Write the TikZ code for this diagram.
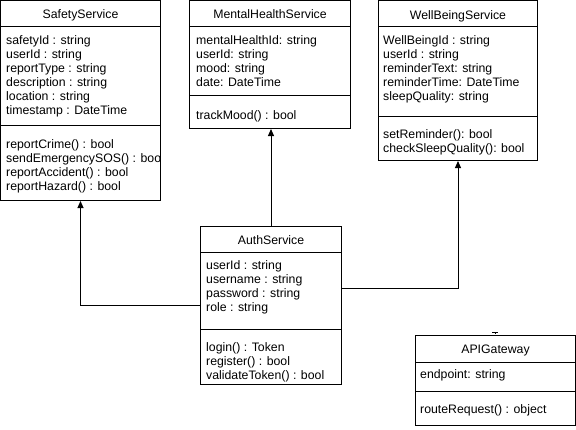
\documentclass[tikz,border=0pt]{standalone}
\usepackage{fontspec}
\setmainfont{Liberation Sans}
\usetikzlibrary{arrows.meta}
\tikzset{
  umlbox/.style={draw, line width=1pt, rectangle, inner sep=0pt},
  sepline/.style={line width=1pt},
  txt/.style={anchor=base west, inner sep=0pt, font=\fontsize{12.3}{14}\selectfont},
  ttl/.style={anchor=base, inner sep=0pt, font=\fontsize{12.3}{14}\selectfont},
  conn/.style={line width=1pt, -{Triangle[width=6pt,length=7pt]}}
}
\begin{document}
\begin{tikzpicture}[x=1pt,y=-1pt]
\useasboundingbox (0,0) rectangle (576,429);
% boxes
\node[umlbox, minimum width=160pt, minimum height=200pt] (safety) at (80.5,100.5) {};
\node[umlbox, minimum width=161pt, minimum height=128pt] (mental) at (270,64.5) {};
\node[umlbox, minimum width=159pt, minimum height=160pt] (wellbeing) at (458,80.5) {};
\node[umlbox, minimum width=141pt, minimum height=158pt] (auth) at (271,305.5) {};
\node[umlbox, minimum width=160pt, minimum height=90pt] (api) at (495.5,380.5) {};
% compartment lines
\draw[sepline] (0.5,26.5) -- (160.5,26.5);
\draw[sepline] (0.5,125.5) -- (160.5,125.5);
\draw[sepline] (189.5,26.5) -- (350.5,26.5);
\draw[sepline] (189.5,95.5) -- (350.5,95.5);
\draw[sepline] (378.5,26.5) -- (537.5,26.5);
\draw[sepline] (378.5,116.5) -- (537.5,116.5);
\draw[sepline] (200.5,252.5) -- (341.5,252.5);
\draw[sepline] (200.5,329.5) -- (341.5,329.5);
\draw[sepline] (415.5,362.5) -- (575.5,362.5);
\draw[sepline] (415.5,391.5) -- (575.5,391.5);
% titles
\node[ttl] (safety-t) at (80.5,18) {SafetyService};
\node[ttl] (mental-t) at (270,18) {MentalHealthService};
\node[ttl] (wellbeing-t) at (458,19) {WellBeingService};
\node[ttl] (auth-t) at (271,244) {AuthService};
\node[ttl] (api-t) at (495.5,353) {APIGateway};
% SafetyService
\foreach \t [count=\i from 0] in {safetyId : string, userId : string, reportType : string, description : string, location : string, timestamp : DateTime}
  \node[txt] (safety-a\i) at (6,44+14*\i) {\t};
\begin{scope}
\clip (0,127) rectangle (160,199);
\foreach \t [count=\i from 0] in {reportCrime() : bool, sendEmergencySOS() : bool, reportAccident() : bool, reportHazard() : bool}
  \node[txt] (safety-m\i) at (6,148+14*\i) {\t};
\end{scope}
% MentalHealthService
\foreach \t [count=\i from 0] in {mentalHealthId: string, userId: string, mood: string, date: DateTime}
  \node[txt] (mental-a\i) at (196,44+14*\i) {\t};
\node[txt] (mental-m0) at (196,119) {trackMood() : bool};
% WellBeingService
\foreach \t [count=\i from 0] in {WellBeingId : string, userId : string, reminderText: string, reminderTime: DateTime, sleepQuality: string}
  \node[txt] (wellbeing-a\i) at (383,44+14*\i) {\t};
\foreach \t [count=\i from 0] in {setReminder(): bool, checkSleepQuality(): bool}
  \node[txt] (wellbeing-m\i) at (383,138+14*\i) {\t};
% AuthService
\foreach \t [count=\i from 0] in {userId : string, username : string, password : string, role : string}
  \node[txt] (auth-a\i) at (206,269+14*\i) {\t};
\foreach \t [count=\i from 0] in {login() : Token, register() : bool, validateToken() : bool}
  \node[txt] (auth-m\i) at (206,351+14*\i) {\t};
% APIGateway
\node[txt] (api-a0) at (420,378) {endpoint: string};
\node[txt] (api-m0) at (420,413) {routeRequest() : object};
% connectors
\draw[conn] (auth.west) -| (safety.south);
\draw[conn] (auth.north) -- (auth.north |- mental.south);
\draw[conn] ([yshift=17pt]auth.east) -| (wellbeing.south);
% small mark above APIGateway
\coordinate (mk) at (495,332);
\draw[line width=1pt] ([xshift=-3pt]mk) -- ([xshift=3pt]mk);
\draw[line width=1pt] (mk) -- ++(0,2);
\end{tikzpicture}
\end{document}
